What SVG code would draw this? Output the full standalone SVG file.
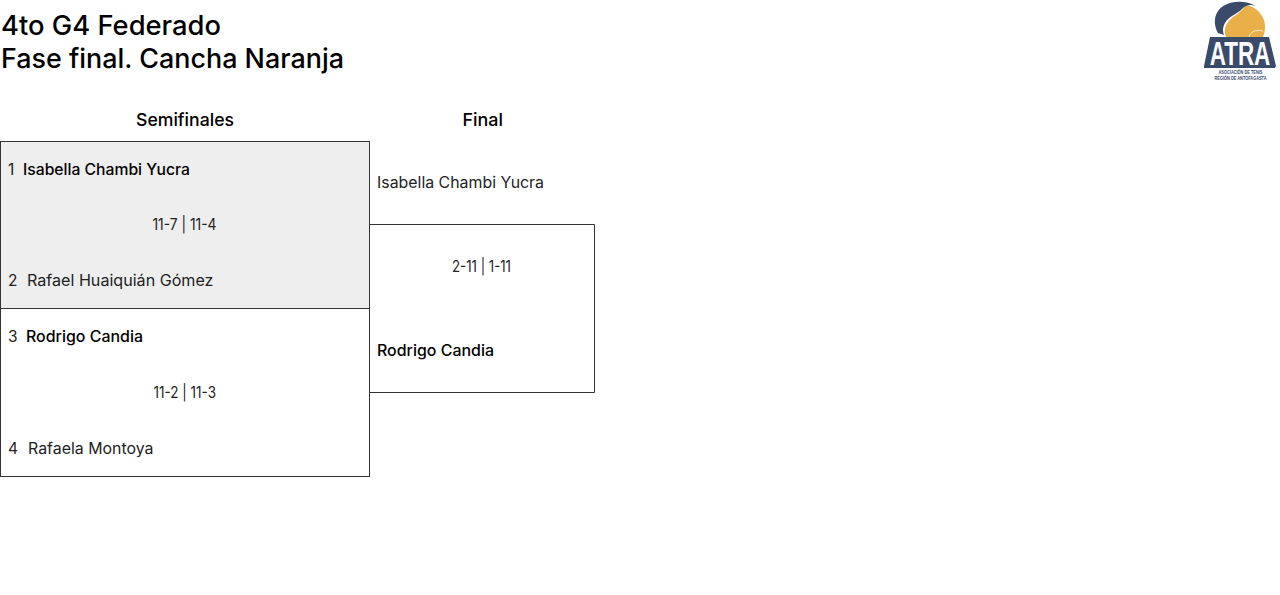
<svg xmlns="http://www.w3.org/2000/svg" width="1280" height="595" viewBox="0 0 1280 595">
<style>
text{font-family:"Inter","Noto Sans","Liberation Sans",sans-serif;fill:#000}
.t{font-size:27px;font-weight:500}
.h{font-size:17.5px;font-weight:500}
.n{font-size:15.500px;fill:#222}
.b{font-size:15.500px;font-weight:500}
.box{stroke:#333;stroke-width:1;fill:none}
.logo{font-family:"Liberation Sans",sans-serif;font-weight:700}
.sub{font-size:6px;fill:#3a4a6b}
</style>
<rect width="1280" height="595" fill="#fff"/>
<g id="title"><text class="t" x="1" y="34.500" textLength="220" lengthAdjust="spacingAndGlyphs">4to G4 Federado</text><text class="t" x="1" y="67.500" textLength="343" lengthAdjust="spacingAndGlyphs">Fase final. Cancha Naranja</text></g>
<g id="logo">
<path d="M1226 37C1222 28 1228 20 1236 15C1243 10 1246 5 1246 5C1258 7 1266 18 1265 28C1265 31 1264 34 1263 37Z" fill="#e9b04a"/>
<path d="M1218 33C1212 22 1215 10 1225 5C1235 0 1247 1 1256 6C1250 4 1246 5 1242 9C1238 13 1232 15 1227 20C1223 25 1222 30 1224 35Z" fill="#3a4a6b"/>
<path d="M1249 37C1250 32 1256 29 1263 31" fill="none" stroke="#f5ecd8" stroke-width="1"/>
<path d="M1210 37H1269L1276 66L1275 68H1204L1204 66Z" fill="#3a4a6b"/>
<text class="logo" transform="translate(1240 65) scale(.66 1)" text-anchor="middle" style="font-size:34px;fill:#fff">ATRA</text>
<text class="logo sub" transform="translate(1240.500 73.500) scale(.65 1)" text-anchor="middle">ASOCIACIÓN DE TENIS</text>
<text class="logo sub" transform="translate(1240.500 79.500) scale(.65 1)" text-anchor="middle">REGIÓN DE ANTOFAGASTA</text>
</g>
<g id="headers"><text class="h" x="136" y="126.300" textLength="98" lengthAdjust="spacingAndGlyphs">Semifinales</text><text class="h" x="462.500" y="126.300" textLength="40.500" lengthAdjust="spacingAndGlyphs">Final</text></g>
<g id="connectors">
<path class="box" d="M370 224.500H594.500V392.500H370"/>
</g>
<g id="semi1">
<rect x="0.500" y="141.500" width="369" height="167" fill="#eee" stroke="#333"/>
<text class="n" x="8" y="175.300">1</text><text class="b" x="23" y="175.300" textLength="167" lengthAdjust="spacingAndGlyphs">Isabella Chambi Yucra</text>
<text class="n" x="152.500" y="230.300" textLength="64" lengthAdjust="spacingAndGlyphs">11-7 | 11-4</text>
<text class="n" x="8" y="286.300">2</text><text class="n" x="27" y="286.300" textLength="186.500" lengthAdjust="spacingAndGlyphs">Rafael Huaiquián Gómez</text>
</g>
<g id="semi2">
<rect x="0.500" y="308.500" width="369" height="168" fill="none" stroke="#333"/>
<text class="n" x="8" y="342.300">3</text><text class="b" x="26" y="342.300" textLength="117" lengthAdjust="spacingAndGlyphs">Rodrigo Candia</text>
<text class="n" x="153.500" y="398.300" textLength="62.500" lengthAdjust="spacingAndGlyphs">11-2 | 11-3</text>
<text class="n" x="8" y="454.300">4</text><text class="n" x="28" y="454.300" textLength="125.500" lengthAdjust="spacingAndGlyphs">Rafaela Montoya</text>
</g>
<g id="final">
<text class="n" x="377" y="188.300" textLength="167" lengthAdjust="spacingAndGlyphs">Isabella Chambi Yucra</text>
<text class="n" x="452" y="272.300" textLength="59" lengthAdjust="spacingAndGlyphs">2-11 | 1-11</text>
<text class="b" x="377" y="356.300" textLength="117" lengthAdjust="spacingAndGlyphs">Rodrigo Candia</text>
</g>
</svg>
